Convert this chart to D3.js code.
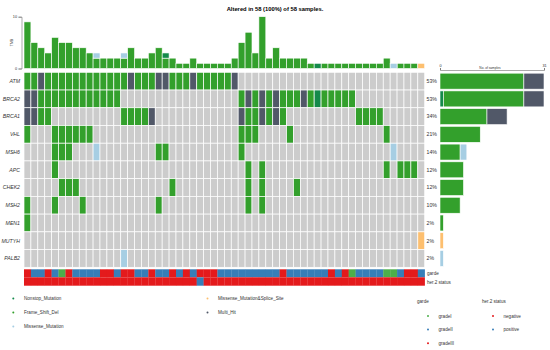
<!DOCTYPE html>
<html><head><meta charset="utf-8">
<script src="https://cdn.jsdelivr.net/npm/d3@7"></script>
<style>body{margin:0;background:#fff}svg{display:block;font-family:"Liberation Sans",Arial,sans-serif}</style>
</head><body><svg id="c" width="550" height="350"></svg>
<script>
// ---- data ----
const genes = ["ATM","BRCA2","BRCA1","VHL","MSH6","APC","CHEK2","MSH2","MEN1","MUTYH","PALB2"];
const pctLabels = ["53%","53%","34%","21%","14%","12%","12%","10%","2%","2%","2%"];
// per-sample codes: F=Frame_Shift_Del N=Nonstop M=Missense S=Missense&Splice H=Multi_Hit .=none
const oncoRows = [
  "FFH"+"FFFFFFFFFFFF"+"H"+"FFF"+"HH"+"FFF"+"H"+"FFFFF"+"H"+".........."+".........."+".......",
  "HH"+"FFFFFFFFFFFF"+".........."+"......."+"FHFHFH"+"FFF"+"H"+"F"+"N"+"FFFFF"+"..........",
  "HHFF"+".........."+"FFFF"+"H"+"............"+"HFFHFHF"+".........."+"FFFF"+"......",
  "F..."+"FFFFFF"+".........."+".........."+"."+"FFF"+"...."+"F"+"............."+"F"+".....",
  "...."+"FFF"+"..."+"M"+"........"+"FF"+".........."+"F"+".........."+".........."+"."+"M"+"....",
  "...."+"F"+".........."+".........."+"......."+"F"+"."+"F"+".........."+"......."+"F"+"."+"FFF"+".",
  "....."+"FFF"+"............."+"F"+".........."+"F"+"."+"F"+"...."+"F"+".........."+"........",
  "F..."+"F..."+"F"+".........."+"F"+"............"+"F"+"."+"F"+".........."+".........."+"...",
  "F"+".........."+".........."+".........."+".........."+".........."+".......",
  ".........."+".........."+".........."+".........."+".........."+"......."+"S",
  ".........."+"...."+"M"+".........."+".........."+".........."+".........."+"..."
];
// right bar counts per gene
const rbFS  = [25,24,14,12,6,7,7,6,1,0,0];
const rbNS  = [0,1,0,0,0,0,0,0,0,0,0];
const rbMS  = [0,0,0,0,2,0,0,0,0,0,1];
const rbMSS = [0,0,0,0,0,0,0,0,0,1,0];
const rbMH  = [6,6,6,0,0,0,0,0,0,0,0];
// top bar (per sample variant counts)
const tmbFS = [9,5,4,3,6,5,5,4,4,3, 2,2,2,2,2,4,2,2,3,4, 2,2,1,1,2,1,1,1,1,1, 2,5,7,3,10,2,4,2,2,2, 2,1,0,1,1,1,1,1,1,1, 1,1,2,0,1,1,1,0];
const tmbNS = [0,0,0,0,0,0,0,0,0,0, 0,0,0,0,0,0,0,0,0,0, 1,0,0,0,0,0,0,0,0,0, 0,0,0,0,0,0,0,0,0,0, 0,0,1,0,0,0,0,0,0,0, 0,0,0,0,0,0,0,0];
const tmbMS = [0,0,0,0,0,0,0,0,0,0, 1,0,0,0,1,0,0,0,0,0, 0,0,0,0,0,0,0,0,0,0, 0,0,0,0,0,0,0,0,0,0, 0,0,0,0,0,0,0,0,0,0, 0,0,0,1,0,0,0,0];
const tmbMSS= [0,0,0,0,0,0,0,0,0,0, 0,0,0,0,0,0,0,0,0,0, 0,0,0,0,0,0,0,0,0,0, 0,0,0,0,0,0,0,0,0,0, 0,0,0,0,0,0,0,0,0,0, 0,0,0,0,0,0,0,1];
// annotations: I, II, III grade; her2 n/p
const garde = "III"+"I".slice(0,0);
const gardeRow = ["III","II","II","III","II","I","III","II","II","II", "II","III","III","II","III","III","II","II","III","II",
                  "II","III","II","III","II","III","III","III","II","II", "II","II","II","II","II","II","II","III","II","II",
                  "II","II","II","II","III","II","III","I","II","II", "II","II","I","I","II","III","III","II"];
const her2Row = gardeRow.map((d,i)=> i===25 ? "positive" : "negative");
const legendMut = ["Nonstop_Mutation","Frame_Shift_Del","Missense_Mutation","Missense_Mutation&Splice_Site","Multi_Hit"];
const gardeLevels = ["gradeI","gradeII","gradeIII"];
const her2Levels = ["negative","positive"];

// ---- styles ----
const colMap = {F:"#33A02C", N:"#148A4B", M:"#A6CEE3", S:"#FDBF6F", H:"#515868"};
const gardeCol = {I:"#4DAF4A", II:"#377EB8", III:"#E41A1C"};
const her2Col = {negative:"#E41A1C", positive:"#377EB8"};
const nS = 58;

const svg = d3.select("#c");
const x = d3.scaleBand().domain(d3.range(nS)).range([24, 424.7]).padding(0);
const y = d3.scaleBand().domain(genes).range([72.3, 267.3]).padding(0);

// title
svg.append("text").attr("x",275).attr("y",10.5).attr("text-anchor","middle")
  .attr("font-size",5.8).attr("font-weight","bold").text("Altered in 58 (100%) of 58 samples.");

// ---- matrix ----
const cells = [];
oncoRows.forEach((row,gi)=>{ for(let i=0;i<nS;i++) cells.push({g:genes[gi], i, c:row[i]}); });
svg.append("g").selectAll("rect").data(cells).join("rect")
  .attr("x",d=>x(d.i)).attr("y",d=>y(d.g)).attr("width",x.bandwidth()).attr("height",y.bandwidth())
  .attr("fill",d=> d.c==="." ? "#CCCCCC" : colMap[d.c])
  .attr("stroke","#ffffff").attr("stroke-width",0.7);

// gene labels
svg.append("g").selectAll("text").data(genes).join("text")
  .attr("x",20).attr("y",g=>y(g)+y.bandwidth()/2+1.8).attr("text-anchor","end")
  .attr("font-size",5.2).attr("font-style","italic").attr("fill","#333").text(g=>g);
// pct labels
svg.append("g").selectAll("text").data(pctLabels).join("text")
  .attr("x",426.5).attr("y",(p,i)=>y(genes[i])+y.bandwidth()/2+1.8)
  .attr("font-size",5.2).attr("fill","#333").text(p=>p);

// ---- top bar ----
const yT = d3.scaleLinear().domain([0,10]).range([68.5,16.7]);
const topData = d3.range(nS).map(i=>({i, F:tmbFS[i], N:tmbNS[i], M:tmbMS[i], S:tmbMSS[i]}));
const topStack = d3.stack().keys(["F","N","M","S"])(topData);
svg.append("g").selectAll("g").data(topStack).join("g").attr("fill",s=>colMap[s.key])
  .selectAll("rect").data(s=>s.filter(d=>d[1]>d[0])).join("rect")
  .attr("x",d=>x(d.data.i)).attr("width",x.bandwidth())
  .attr("y",d=>yT(d[1])).attr("height",d=>yT(d[0])-yT(d[1]))
  .attr("stroke","#fff").attr("stroke-width",0.6);
const axT = svg.append("g").attr("transform","translate(21.5,0)")
  .call(d3.axisLeft(yT).tickValues([0,10]).tickSize(3).tickFormat(d3.format("d")));
axT.selectAll("text").attr("font-size",3.8).attr("font-family","Liberation Sans, Arial").attr("fill","#333").attr("x",-4.5);
axT.selectAll("line,path").attr("stroke","#555").attr("stroke-width",0.5);
svg.append("text").attr("transform","translate(12.5,42.5) rotate(-90)").attr("text-anchor","middle")
  .attr("font-size",3.5).attr("fill","#333").text("TMB");

// ---- right bar ----
const xR = d3.scaleLinear().domain([0,31]).range([440,544]);
const yR = d3.scaleBand().domain(genes).range([72.3,267.3]).paddingInner(0.1).paddingOuter(0.05);
const rData = genes.map((g,i)=>({g, N:rbNS[i], F:rbFS[i], M:rbMS[i], S:rbMSS[i], H:rbMH[i]}));
const rStack = d3.stack().keys(["N","F","M","S","H"])(rData);
svg.append("g").selectAll("g").data(rStack).join("g").attr("fill",s=>colMap[s.key])
  .selectAll("rect").data(s=>s.filter(d=>d[1]>d[0])).join("rect")
  .attr("y",d=>yR(d.data.g)).attr("height",yR.bandwidth())
  .attr("x",d=>xR(d[0])).attr("width",d=>xR(d[1])-xR(d[0]))
  .attr("stroke","#fff").attr("stroke-width",0.6);
const axR = svg.append("g").attr("transform","translate(0,70)")
  .call(d3.axisTop(xR).tickValues([0,31]).tickSize(2).tickFormat(d3.format("d")));
axR.selectAll("text").attr("font-size",3.8).attr("font-family","Liberation Sans, Arial").attr("fill","#333").attr("y",-3.5);
axR.selectAll("line,path").attr("stroke","#555").attr("stroke-width",0.5);
svg.append("text").attr("x",490).attr("y",68.8).attr("text-anchor","middle").attr("font-size",3.2).attr("fill","#333").text("No. of samples");

// ---- annotations ----
svg.append("g").selectAll("rect").data(gardeRow).join("rect")
  .attr("x",(d,i)=>x(i)).attr("width",x.bandwidth()+0.2).attr("y",269.3).attr("height",8).attr("fill",d=>gardeCol[d]);
svg.append("g").selectAll("rect").data(her2Row).join("rect")
  .attr("x",(d,i)=>x(i)).attr("width",x.bandwidth()+0.2).attr("y",277.3).attr("height",8.4).attr("fill",d=>her2Col[d]);
svg.append("text").attr("x",427).attr("y",275.2).attr("font-size",4.6).attr("fill","#333").text("garde");
svg.append("text").attr("x",427).attr("y",283.6).attr("font-size",4.6).attr("fill","#333").text("her.2 status");

// ---- legends ----
const lgPos = [[13.3,24,300],[13.3,24,314],[13.3,24,328],[207.5,218,300],[207.5,218,314]];
const lgCol = ["N","F","M","S","H"];
const lg = svg.append("g");
legendMut.forEach((t,i)=>{
  const [dx,tx,ty] = lgPos[i];
  lg.append("circle").attr("cx",dx).attr("cy",ty-1.6).attr("r",1).attr("fill",colMap[lgCol[i]]);
  lg.append("text").attr("x",tx).attr("y",ty).attr("font-size",4.6).attr("fill","#333").text(t);
});
svg.append("text").attr("x",417).attr("y",302.5).attr("font-size",4.6).attr("fill","#333").text("garde");
svg.append("text").attr("x",482).attr("y",302.5).attr("font-size",4.6).attr("fill","#333").text("her.2 status");
const gCols = ["I","II","III"];
gardeLevels.forEach((t,i)=>{
  const ty = 317.5 + i*13.7;
  svg.append("circle").attr("cx",428).attr("cy",ty-1.6).attr("r",1).attr("fill",gardeCol[gCols[i]]);
  svg.append("text").attr("x",438.5).attr("y",ty).attr("font-size",4.6).attr("fill","#333").text(t);
});
her2Levels.forEach((t,i)=>{
  const ty = 317.5 + i*13.7;
  svg.append("circle").attr("cx",493).attr("cy",ty-1.6).attr("r",1).attr("fill",her2Col[t]);
  svg.append("text").attr("x",503.5).attr("y",ty).attr("font-size",4.6).attr("fill","#333").text(t);
});
</script></body></html>
